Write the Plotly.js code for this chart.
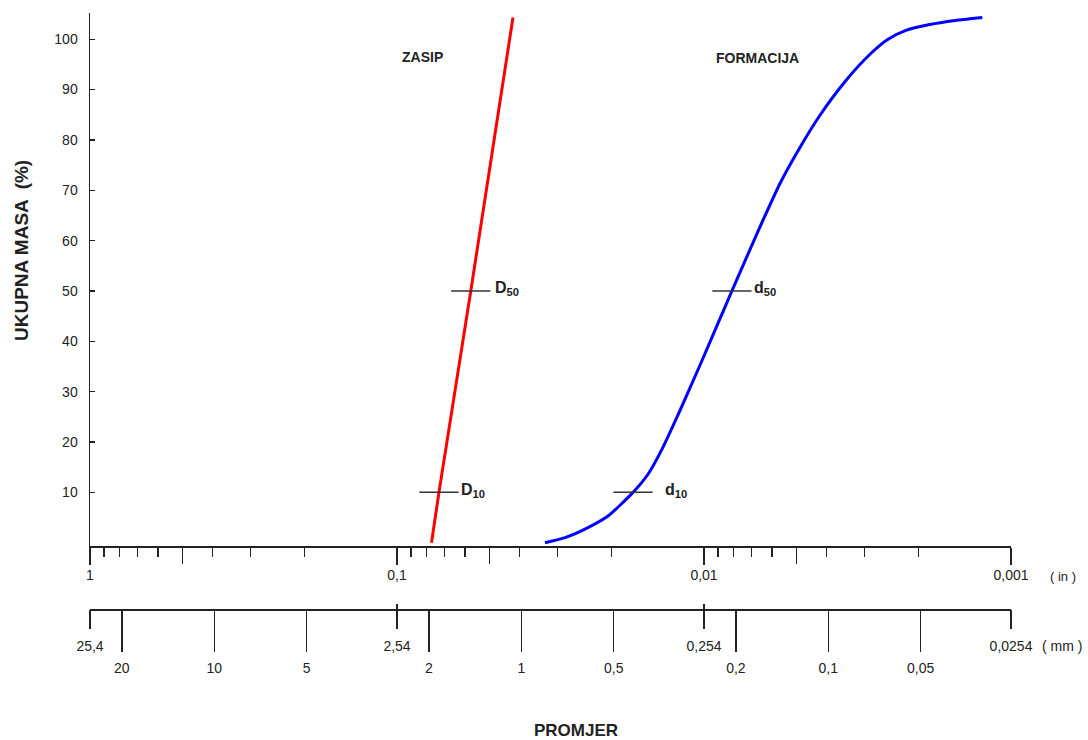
<!DOCTYPE html>
<html>
<head>
<meta charset="utf-8">
<script src="https://cdn.plot.ly/plotly-3.0.1.min.js"></script>
<style>html,body{margin:0;padding:0;background:#fff;}#chart{width:1088px;height:740px;}</style>
</head>
<body>
<div id="chart"></div>
<script>
// ---- data (grain size in inches, cumulative mass %) ----
const zasipSize = [0.0772, 0.0730, 0.0575, 0.0419];
const zasipMass = [0, 10, 50, 104.3];

const formSize = [0.03296, 0.02836, 0.02405, 0.02055, 0.01703, 0.01522, 0.01370, 0.01197, 0.01030, 0.00900,
                  0.00811, 0.00672, 0.00565, 0.00487, 0.00419, 0.00347, 0.00288, 0.00253, 0.00221, 0.00184,
                  0.00152, 0.00124];
const formMass = [0, 1.0, 2.9, 5.3, 10, 13.6, 18.6, 26.3, 35.3, 43.6,
                  50, 61.4, 71.4, 78.5, 84.9, 91.6, 97.0, 99.9, 101.7, 102.9,
                  103.7, 104.3];

// characteristic diameters
const zasipMarkLabels = ['D<sub>10</sub>', 'D<sub>50</sub>'];
const zasipMarkSize = [0.0730, 0.0575];
const zasipMarkMass = [10, 50];
const formMarkLabels = ['d<sub>10</sub>', 'd<sub>50</sub>'];
const formMarkSize = [0.01703, 0.00811];
const formMarkMass = [10, 50];

// axis ticks
const yTicks = [10, 20, 30, 40, 50, 60, 70, 80, 90, 100];
const inchTicks = [1, 0.1, 0.01, 0.001];
const inchTickText = ['1', '0,1', '0,01', '0,001'];
const inchHalfTicks = [0.5, 0.05, 0.005];
const inchMinor = [0.9, 0.8, 0.7, 0.6, 0.4, 0.3, 0.2,
                   0.09, 0.08, 0.07, 0.06, 0.04, 0.03, 0.02,
                   0.009, 0.008, 0.007, 0.006, 0.004, 0.003, 0.002];
const mmTicks = [20, 10, 5, 2, 1, 0.5, 0.2, 0.1, 0.05];
const mmTickText = ['20', '10', '5', '2', '1', '0,5', '0,2', '0,1', '0,05'];
const mmRefTicks = [25.4, 2.54, 0.254, 0.0254];
const mmRefText = ['25,4', '2,54', '0,254', '0,0254'];

const FONT = 'Liberation Sans, Arial, Helvetica, sans-serif';
const TXT = '#222';

const traces = [
  {x: zasipSize, y: zasipMass, mode: 'lines', line: {color: '#ff0000', width: 3}, hoverinfo: 'skip'},
  {x: formSize, y: formMass, mode: 'lines', line: {color: '#0000ff', width: 3, shape: 'spline', smoothing: 0.6}, hoverinfo: 'skip'},
  {x: zasipMarkSize.concat(formMarkSize), y: zasipMarkMass.concat(formMarkMass), mode: 'markers',
   marker: {symbol: 'line-ew', size: 28, line: {width: 1.5, color: '#333'}}, hoverinfo: 'skip'}
];

const log10 = Math.log10;
const annotations = [];
const markShift = [20, 22, 30, 20];
const allMarkLabels = zasipMarkLabels.concat(formMarkLabels);
const allMarkSize = zasipMarkSize.concat(formMarkSize);
const allMarkMass = zasipMarkMass.concat(formMarkMass);
allMarkLabels.forEach((t, i) => {
  annotations.push({x: log10(allMarkSize[i]), y: allMarkMass[i], xref: 'x', yref: 'y', text: '<b>' + t + '</b>',
    showarrow: false, xanchor: 'left', yanchor: 'middle', xshift: markShift[i], yshift: 2,
    font: {family: FONT, size: 16, color: TXT}});
});
annotations.push(
  {x: log10(0.0829), y: 96.4, xref: 'x', yref: 'y', text: '<b>ZASIP</b>', showarrow: false,
   font: {family: FONT, size: 14, color: TXT}},
  {x: log10(0.00667), y: 96.2, xref: 'x', yref: 'y', text: '<b>FORMACIJA</b>', showarrow: false,
   font: {family: FONT, size: 14, color: TXT}},
  {x: 1.04, y: (609 - 576) / 596, xref: 'paper', yref: 'paper', text: '( in )', showarrow: false, xanchor: 'left',
   yanchor: 'middle', font: {family: FONT, size: 13, color: TXT}},
  {x: 1.0315, y: (609 - 646) / 596, xref: 'paper', yref: 'paper', text: '( mm )', showarrow: false, xanchor: 'left',
   yanchor: 'middle', font: {family: FONT, size: 14, color: TXT}},
  {x: (576 - 90) / 921, y: (609 - 730) / 596, xref: 'paper', yref: 'paper', text: '<b>PROMJER</b>', showarrow: false,
   xanchor: 'center', yanchor: 'middle', font: {family: FONT, size: 17, color: TXT}},
  {x: (21 - 90) / 921, y: (609 - 251) / 596, xref: 'paper', yref: 'paper', text: '<b>UKUPNA MASA  (%)</b>', showarrow: false,
   textangle: -90, xanchor: 'center', yanchor: 'middle', font: {family: FONT, size: 19, color: TXT}}
);

const mmRange = [log10(25.4), log10(0.0254)];
const inRange = [0, -3];
const blankAxis = (extra) => Object.assign({
  showgrid: false, zeroline: false, showline: false, showticklabels: false,
  tickwidth: 1.3, tickcolor: '#222', tickmode: 'array'
}, extra);

const layout = {
  width: 1088, height: 740,
  margin: {l: 90, r: 77, t: 13, b: 131},
  paper_bgcolor: '#fff', plot_bgcolor: '#fff',
  showlegend: false,
  font: {family: FONT, size: 14, color: TXT},
  xaxis: {
    type: 'log', range: inRange, showgrid: false, zeroline: false,
    showline: true, linecolor: '#222', linewidth: 1.5,
    ticks: 'outside', ticklen: 17, tickwidth: 1.3, tickcolor: '#222',
    tickmode: 'array', tickvals: inchTicks, ticktext: inchTickText, ticklabelstandoff: -1,
    tickfont: {family: FONT, size: 14, color: TXT}
  },
  xaxis5: blankAxis({type: 'log', range: inRange, overlaying: 'x', anchor: 'y', side: 'bottom',
    ticks: 'outside', ticklen: 17, tickvals: inchHalfTicks}),
  xaxis6: blankAxis({type: 'log', range: inRange, overlaying: 'x', anchor: 'y', side: 'bottom',
    ticks: 'outside', ticklen: 10, tickvals: inchMinor}),
  xaxis2: {
    type: 'log', range: mmRange, overlaying: 'x', anchor: 'free', position: 0, side: 'bottom',
    showgrid: false, zeroline: false, showline: true, linecolor: '#222', linewidth: 1.5,
    ticks: 'outside', ticklen: 41, tickwidth: 1.3, tickcolor: '#222',
    tickmode: 'array', tickvals: mmTicks, ticktext: mmTickText, ticklabelstandoff: 5,
    tickfont: {family: FONT, size: 14, color: TXT}
  },
  xaxis3: {
    type: 'log', range: mmRange, overlaying: 'x', anchor: 'free', position: 0, side: 'bottom',
    showgrid: false, zeroline: false, showline: false,
    ticks: 'outside', ticklen: 19, tickwidth: 1.3, tickcolor: '#222',
    tickmode: 'array', tickvals: mmRefTicks, ticktext: mmRefText, ticklabelstandoff: 5,
    tickfont: {family: FONT, size: 14, color: TXT}
  },
  xaxis4: blankAxis({type: 'log', range: mmRange, overlaying: 'x', anchor: 'free', position: 0, side: 'bottom',
    ticks: 'inside', ticklen: 5, tickvals: mmRefTicks}),
  yaxis: {
    domain: [(609 - 546) / 596, 1], range: [-0.65, 105.2],
    showgrid: false, zeroline: false, showline: true, linecolor: '#222', linewidth: 1.5,
    ticks: 'inside', ticklen: 5, tickwidth: 1.3, tickcolor: '#222',
    tickmode: 'array', tickvals: yTicks, ticklabelstandoff: 8,
    tickfont: {family: FONT, size: 14, color: TXT}
  },
  annotations: annotations
};

// invisible traces to activate the extra axes
['x2', 'x3', 'x4', 'x5', 'x6'].forEach(ax => {
  traces.push({x: [1, 0.1], y: [null, null], xaxis: ax, yaxis: 'y', mode: 'lines', hoverinfo: 'skip', showlegend: false});
});

Plotly.newPlot('chart', traces, layout, {staticPlot: true, displayModeBar: false});
</script>
</body>
</html>
